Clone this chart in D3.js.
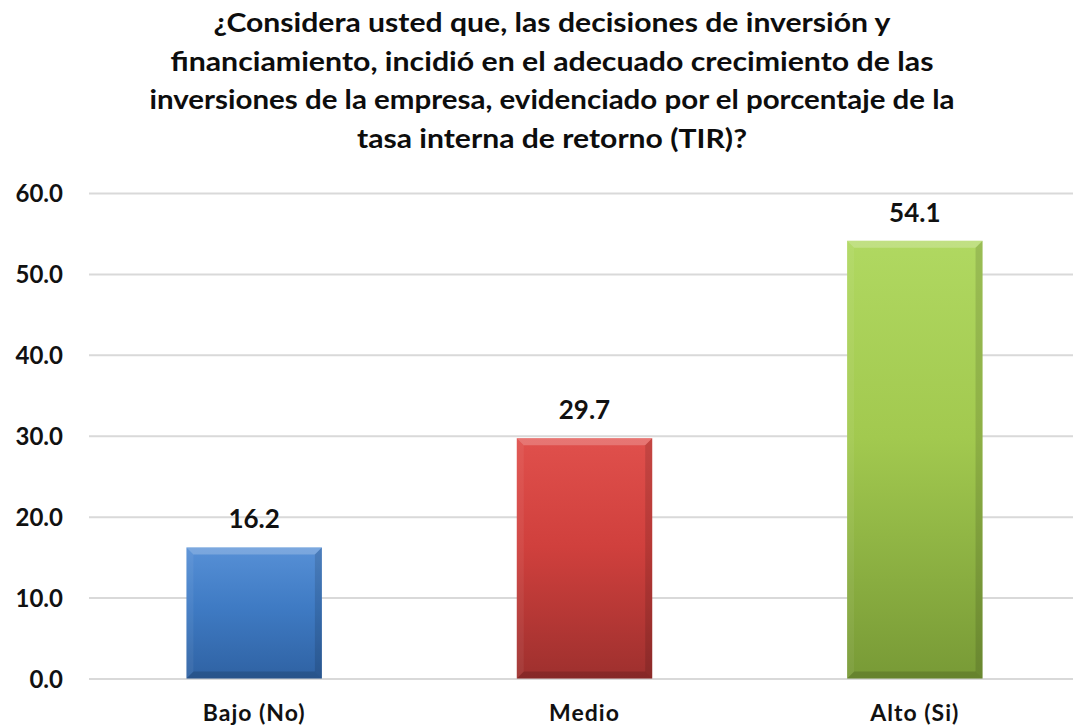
<!DOCTYPE html>
<html>
<head>
<meta charset="utf-8">
<script src="https://cdn.jsdelivr.net/npm/d3@7"></script>
<style>
  body { margin: 0; background: #fff; }
  svg { display: block; font-family: Lato, "Open Sans", sans-serif; font-weight: bold; }
</style>
</head>
<body>
<div class="bar-chart"></div>
<script>
// chart data
var categories = ["Bajo (No)", "Medio", "Alto (Si)"]
var values = [16.2, 29.7, 54.1]
var yTicks = [0, 10, 20, 30, 40, 50, 60]
var titleLines = [
  "¿Considera usted que, las decisiones de inversión y",
  "financiamiento, incidió en el adecuado crecimiento de las",
  "inversiones de la empresa, evidenciado por el porcentaje de la",
  "tasa interna de retorno (TIR)?"
]
// approx. rendered width of each title line in the original
var titleWidths = [677, 763, 805, 390]
var barColors = [
  {top: "#5790d6", mid: "#3f7bc4", bot: "#2f62a3"},
  {top: "#e0504c", mid: "#d0403d", bot: "#9e302e"},
  {top: "#b0d861", mid: "#a2c94f", bot: "#789a36"}
]

var width = 1073, height = 726

var svg = d3.select(".bar-chart")
  .append("svg")
    .attr("width", width)
    .attr("height", height)

var x = d3.scaleBand()
  .domain(categories)
  .range([89, 1080])
  .paddingInner(0.59)
  .paddingOuter(0.295)

var y = d3.scaleLinear()
  .domain([0, 60])
  .range([678.5, 193])

// title
svg.append("g")
  .selectAll("text")
  .data(titleLines)
  .enter()
  .append("text")
    .attr("x", 552)
    .attr("y", function(d, i) { return 32 + i * 38.5 })
    .attr("text-anchor", "middle")
    .attr("textLength", function(d, i) { return titleWidths[i] })
    .attr("lengthAdjust", "spacingAndGlyphs")
    .style("font-size", "27px")
    .style("fill", "#0d0d0d")
    .text(function(d) { return d })

// gridlines + y labels
var yAxis = svg.append("g")
  .attr("transform", "translate(89,0)")
  .call(d3.axisLeft(y)
    .tickValues(yTicks)
    .tickSize(-(width - 89))
    .tickPadding(26)
    .tickFormat(d3.format(".1f")))

yAxis.select(".domain").remove()
yAxis.selectAll(".tick line")
  .attr("stroke", "#d9d9d9")
  .attr("stroke-width", 2)
yAxis.selectAll(".tick text")
  .attr("dy", "0.36em")
  .style("font-size", "24px")
  .style("font-family", "Lato, sans-serif")
  .style("font-weight", "bold")
  .style("fill", "#111")

// gradients per bar
var defs = svg.append("defs")
barColors.forEach(function(c, i) {
  var g = defs.append("linearGradient")
    .attr("id", "grad" + i)
    .attr("x1", 0).attr("y1", 0).attr("x2", 0).attr("y2", 1)
  g.append("stop").attr("offset", "0%").attr("stop-color", c.top)
  g.append("stop").attr("offset", "45%").attr("stop-color", c.mid)
  g.append("stop").attr("offset", "100%").attr("stop-color", c.bot)
})

var bars = svg.selectAll(".bar")
  .data(values)
  .enter()
  .append("g")
  .attr("class", "bar")

bars.append("rect")
  .attr("x", function(d, i) { return x(categories[i]) })
  .attr("y", function(d) { return y(d) })
  .attr("width", x.bandwidth())
  .attr("height", function(d) { return y(0) - y(d) })
  .attr("fill", function(d, i) { return "url(#grad" + i + ")" })

// bevel edges (top light, sides / bottom darker)
var bev = 7
function bevel(d, i, side) {
  var x0 = x(categories[i]), x1 = x0 + x.bandwidth()
  var y0 = y(d), y1 = y(0)
  if (side == "top") return [[x0, y0], [x1, y0], [x1 - bev, y0 + bev], [x0 + bev, y0 + bev]]
  if (side == "left") return [[x0, y0], [x0 + bev, y0 + bev], [x0 + bev, y1 - bev], [x0, y1]]
  if (side == "right") return [[x1, y0], [x1 - bev, y0 + bev], [x1 - bev, y1 - bev], [x1, y1]]
  return [[x0, y1], [x0 + bev, y1 - bev], [x1 - bev, y1 - bev], [x1, y1]]
}
var sides = [
  {s: "top", fill: "#fff", op: 0.22},
  {s: "left", fill: "#fff", op: 0.06},
  {s: "right", fill: "#000", op: 0.12},
  {s: "bottom", fill: "#000", op: 0.15}
]
sides.forEach(function(sd) {
  bars.append("polygon")
    .attr("points", function(d, i) { return bevel(d, i, sd.s).map(function(p) { return p.join(",") }).join(" ") })
    .attr("fill", sd.fill)
    .attr("fill-opacity", sd.op)
})

// value labels
bars.append("text")
  .attr("x", function(d, i) { return x(categories[i]) + x.bandwidth() / 2 })
  .attr("y", function(d) { return y(d) - 19 })
  .attr("text-anchor", "middle")
  .style("font-size", "26px")
  .style("fill", "#111")
  .text(function(d) { return d.toFixed(1) })

// category labels
svg.selectAll(".cat")
  .data(categories)
  .enter()
  .append("text")
    .attr("class", "cat")
    .attr("x", function(d) { return x(d) + x.bandwidth() / 2 })
    .attr("y", 721)
    .attr("text-anchor", "middle")
    .style("font-size", "23px")
    .style("letter-spacing", "1px")
    .style("fill", "#111")
    .text(function(d) { return d })
</script>
</body>
</html>
